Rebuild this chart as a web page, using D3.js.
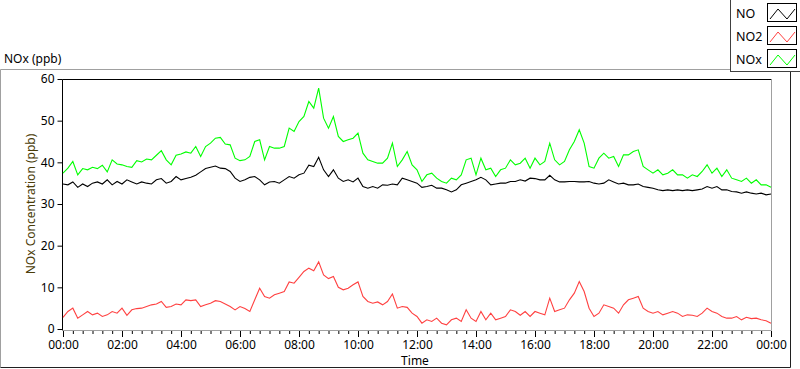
<!DOCTYPE html>
<html>
<head>
<meta charset="utf-8">
<script src="https://cdn.jsdelivr.net/npm/d3@7"></script>
<style>
  html, body { margin: 0; padding: 0; background: #fff; }
  svg { display: block; font-family: "Noto Sans", "DejaVu Sans", sans-serif; }
</style>
</head>
<body>
<svg id="chart" width="800" height="369"></svg>
<script>
// ---- data (10-minute samples, 00:00 .. 24:00) ----
const seriesNames = ["NO", "NO2", "NOx"];
const seriesColors = ["#000000", "#ff4040", "#00ff00"];
const stepMinutes = 10;

const NO = [
  34.8,34.6,35.3,34.0,34.8,34.2,35.0,35.3,34.8,35.8,34.6,35.4,
  34.8,35.8,35.3,34.8,35.3,35.0,34.8,35.8,36.1,35.0,35.4,36.6,
  35.8,36.1,36.4,36.9,37.7,38.5,38.8,39.1,38.6,38.5,37.8,36.2,
  35.4,35.8,36.4,36.6,35.8,34.6,35.3,35.4,35.0,35.8,36.6,36.2,
  37.0,37.4,39.3,39.0,41.2,38.2,36.6,38.2,36.2,35.4,35.8,35.3,
  36.2,34.2,33.8,34.2,33.8,34.6,34.5,34.8,34.6,36.2,35.8,35.4,
  35.0,34.0,34.2,34.5,33.8,33.8,33.4,32.9,33.4,34.6,35.0,35.4,
  35.8,36.4,35.8,34.6,34.8,35.0,35.0,35.4,35.4,35.8,35.5,36.2,
  36.1,35.8,35.8,36.9,35.8,35.3,35.3,35.4,35.4,35.3,35.3,35.4,
  35.0,34.8,35.0,35.8,35.3,34.8,35.0,34.6,34.6,34.8,34.2,34.0,
  33.8,33.4,33.2,33.4,33.2,33.4,33.2,33.4,33.2,33.4,33.6,34.2,
  33.8,34.2,33.4,33.4,33.0,32.9,32.6,32.9,32.6,32.4,32.6,32.2,
  32.4
];
const NO2 = [
  2.8,4.2,5.0,2.6,3.4,4.2,3.4,3.8,3.0,3.4,4.2,3.8,
  5.0,3.3,4.6,4.9,5.0,5.4,5.8,6.0,6.6,5.2,5.4,6.0,
  5.8,7.0,6.8,7.0,5.4,5.8,6.2,6.8,6.6,6.0,5.4,4.6,
  5.4,4.9,4.2,7.0,9.8,7.8,7.4,8.2,8.6,9.0,11.3,11.0,
  12.4,13.8,14.6,14.0,16.1,13.0,12.1,12.6,10.0,9.4,9.8,10.6,
  11.3,7.8,6.6,6.2,6.5,5.8,6.6,8.4,5.0,5.4,5.2,3.8,
  3.0,1.4,2.2,1.8,2.6,1.4,1.0,2.2,2.6,1.8,4.6,2.6,
  1.8,4.2,2.2,3.8,2.2,2.6,3.0,4.6,4.2,3.3,4.2,3.0,
  4.2,3.8,3.4,7.4,4.2,4.6,5.0,7.0,8.6,11.4,9.0,5.0,
  3.0,3.8,5.8,5.4,5.0,3.8,5.8,7.0,7.4,7.8,5.0,4.2,
  3.8,4.2,3.4,3.8,4.2,3.8,3.0,3.4,3.3,3.0,3.8,5.0,
  4.2,3.8,3.0,2.6,2.6,3.0,2.2,2.8,2.5,2.6,2.2,2.0,
  1.4
];
const NOx = [
  37.4,38.6,40.2,37.0,38.5,38.2,38.8,38.5,39.3,37.7,40.6,39.6,
  39.4,39.0,38.8,40.4,40.1,40.8,40.6,41.7,42.8,40.6,39.4,41.7,
  42.0,42.5,42.2,43.8,41.4,43.8,44.6,45.8,46.0,44.4,44.2,41.0,
  40.4,40.6,41.4,45.0,45.4,40.6,43.8,43.4,43.4,43.8,48.2,47.4,
  49.8,51.0,54.6,53.0,57.8,50.6,48.2,51.0,46.2,45.0,45.4,45.8,
  47.0,42.2,40.6,40.2,39.8,39.8,41.0,44.6,39.0,40.6,42.6,39.4,
  38.2,35.4,37.0,37.4,36.2,35.4,35.0,36.2,35.8,37.0,40.6,41.0,
  37.0,41.0,38.2,38.6,36.6,38.2,38.6,40.6,39.4,39.8,41.0,38.6,
  41.0,39.4,40.2,44.6,40.6,39.4,40.2,43.0,45.0,47.8,44.6,39.0,
  38.6,41.0,42.2,41.0,41.4,39.0,41.8,41.8,42.6,43.0,39.0,38.2,
  37.4,38.2,37.0,37.4,38.2,37.0,37.0,36.2,37.0,36.6,37.8,39.4,
  37.4,38.6,36.6,38.2,36.2,35.8,35.4,36.2,35.0,35.8,34.6,34.6,
  34.0
];
const seriesValues = [NO, NO2, NOx];

const xTickHours = [0,2,4,6,8,10,12,14,16,18,20,22,24];
const yTickValues = [0,10,20,30,40,50,60];
const chartTitle = "NOx (ppb)";
const yTitle = "NOx Concentration (ppb)";
const xTitle = "Time";

// ---- layout ----
const svg = d3.select("#chart");
const plot = { left: 62.5, right: 771.5, top: 79.5, bottom: 329.5 };

const x = d3.scaleLinear().domain([0, 24]).range([63, 771]);
const y = d3.scaleLinear().domain([0, 60]).range([329, 79]);

// outer frame
const frame = svg.append("g");
frame.append("line").attr("x1", 0.5).attr("x2", 790).attr("y1", 69.5).attr("y2", 69.5).attr("stroke", "#a0a0a0");
frame.append("line").attr("x1", 0.5).attr("x2", 0.5).attr("y1", 69.5).attr("y2", 367.5).attr("stroke", "#a0a0a0");
frame.append("line").attr("x1", 0.5).attr("x2", 790.5).attr("y1", 367.5).attr("y2", 367.5).attr("stroke", "#202020");
frame.append("line").attr("x1", 790.5).attr("x2", 790.5).attr("y1", 69.5).attr("y2", 367.5).attr("stroke", "#202020");

// title
svg.append("text").attr("x", 4).attr("y", 63).attr("font-size", 12).attr("fill", "#000").text(chartTitle);

// plot border
svg.append("line").attr("x1", plot.left).attr("x2", plot.right).attr("y1", plot.top).attr("y2", plot.top).attr("stroke", "#000");
svg.append("line").attr("x1", plot.left).attr("x2", plot.left).attr("y1", plot.top).attr("y2", plot.bottom + 1).attr("stroke", "#000");
svg.append("line").attr("x1", plot.right).attr("x2", plot.right).attr("y1", plot.top).attr("y2", plot.bottom + 1).attr("stroke", "#a0a0a0");
svg.append("line").attr("x1", plot.left).attr("x2", plot.right).attr("y1", plot.bottom + 1).attr("y2", plot.bottom + 1).attr("stroke", "#a0a0a0");

// y axis
const yAxis = svg.append("g").attr("transform", `translate(${plot.left},0)`)
  .call(d3.axisLeft(y).tickValues(yTickValues).tickSize(5).tickPadding(3).tickFormat(d3.format("d")));
yAxis.select(".domain").remove();
yAxis.selectAll("text").attr("font-size", 12).attr("fill", "#000").attr("font-family", '"Noto Sans", sans-serif');
yAxis.selectAll("line").attr("stroke", "#000");

// x axis minor ticks
const minorTicks = d3.range(0, 24 * 3 + 1).map(i => i / 3).filter(h => Math.abs(h / 2 - Math.round(h / 2)) > 1e-6);
const xMinor = svg.append("g").attr("transform", `translate(0,${plot.bottom + 1.5})`)
  .call(d3.axisBottom(x).tickValues(minorTicks).tickSize(3).tickFormat(""));
xMinor.select(".domain").remove();
xMinor.selectAll("line").attr("stroke", "#000");

// x axis major ticks
const fmtHour = h => String(h % 24).padStart(2, "0") + ":00";
const xAxis = svg.append("g").attr("transform", `translate(0,${plot.bottom + 1.5})`)
  .call(d3.axisBottom(x).tickValues(xTickHours).tickSize(6).tickPadding(3).tickFormat(fmtHour));
xAxis.select(".domain").remove();
xAxis.selectAll("line").attr("stroke", "#000");
xAxis.selectAll("text").attr("font-size", 12).attr("fill", "#000").attr("font-family", '"Noto Sans", sans-serif');

// axis titles
svg.append("text").attr("x", 415).attr("y", 365).attr("text-anchor", "middle")
  .attr("font-size", 12).attr("fill", "#000").text(xTitle);
svg.append("text").attr("transform", "translate(35,204) rotate(-90)").attr("text-anchor", "middle")
  .attr("font-size", 12).attr("fill", "#4a3c08").text(yTitle);

// series lines
const line = d3.line()
  .x((d, i) => x(i * stepMinutes / 60))
  .y(d => y(d));
const gLines = svg.append("g");
seriesValues.forEach((vals, k) => {
  gLines.append("path").datum(vals)
    .attr("d", line)
    .attr("fill", "none")
    .attr("stroke", seriesColors[k])
    .attr("stroke-width", 1.1);
});

// legend
const lg = svg.append("g");
lg.append("rect").attr("x", 730.5).attr("y", -1).attr("width", 80).attr("height", 72.5)
  .attr("fill", "#fff").attr("stroke", "#404040");
const legendRows = [
  { ty: 18, sy: 3 },
  { ty: 41, sy: 26 },
  { ty: 64, sy: 49 }
];
seriesNames.forEach((name, k) => {
  const r = legendRows[k];
  lg.append("text").attr("x", 736).attr("y", r.ty).attr("font-size", 12.5).attr("fill", "#000").text(name);
  lg.append("rect").attr("x", 767.5).attr("y", r.sy + 0.5).attr("width", 29).attr("height", 18)
    .attr("fill", "#fff").attr("stroke", "#000");
  const pts = [[770, r.sy + 16], [778, r.sy + 6], [787, r.sy + 16], [795, r.sy + 6]];
  lg.append("path").attr("d", d3.line()(pts)).attr("fill", "none").attr("stroke", seriesColors[k]).attr("stroke-width", 1);
});
</script>
</body>
</html>
